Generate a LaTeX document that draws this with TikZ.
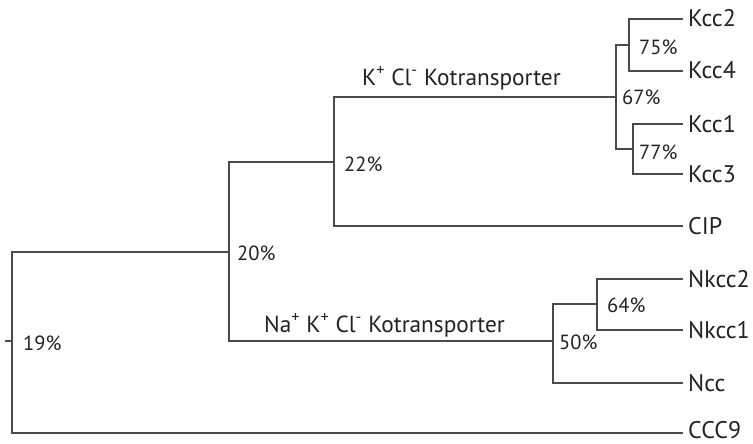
\documentclass[tikz,border=0pt]{standalone}
\usepackage{fontspec}
\setmainfont{PT Sans}
\definecolor{branch}{HTML}{4A4A4A}
\definecolor{ink}{HTML}{222222}
\begin{document}
\begin{tikzpicture}[x=1pt,y=-1pt,
  edge/.style={draw=branch,line width=1.5pt},
  taxon/.style={anchor=base west,inner sep=0pt,text depth=0pt,text=ink,font=\fontsize{24}{28}\selectfont},
  support/.style={anchor=base west,inner sep=0pt,text depth=0pt,text=ink,font=\fontsize{20.5}{24}\selectfont},
  clade/.style={anchor=base west,inner sep=0pt,text=ink,font=\fontsize{23.3}{27}\selectfont}]
\useasboundingbox (0,0) rectangle (753,444);

% internal nodes (junction points of the cladogram)
\coordinate (stub) at (5,341);
\coordinate (r)    at (12,341);
\coordinate (n20)  at (229,252);
\coordinate (n22)  at (334,162);
\coordinate (n67)  at (616,97);
\coordinate (n75)  at (629,45);
\coordinate (n77)  at (633,149);
\coordinate (n50)  at (553,341);
\coordinate (n64)  at (597,304);

% leaf end points
\coordinate (eKcc2)  at (683,19);
\coordinate (eKcc4)  at (683,71);
\coordinate (eKcc1)  at (683,124);
\coordinate (eKcc3)  at (683,174);
\coordinate (eCIP)   at (683,226);
\coordinate (eNkcc2) at (683,279);
\coordinate (eNkcc1) at (683,330);
\coordinate (eNcc)   at (683,383);
\coordinate (eCCC9)  at (683,433);

% leaf labels (baselines sit about 8pt below the branch)
\node[taxon] (Kcc2)  at (688,27)  {Kcc2};
\node[taxon] (Kcc4)  at (688,79)  {Kcc4};
\node[taxon] (Kcc1)  at (688,132) {Kcc1};
\node[taxon] (Kcc3)  at (688,182) {Kcc3};
\node[taxon] (CIP)   at (688,234) {CIP};
\node[taxon] (Nkcc2) at (688,287) {Nkcc2};
\node[taxon] (Nkcc1) at (688,338) {Nkcc1};
\node[taxon] (Ncc)   at (688,391) {Ncc};
\node[taxon] (CCC9)  at (688,438) {CCC9};

% branches
\draw[edge] (stub) -- (r);
\draw[edge] (r) |- (n20);
\draw[edge] (r) |- (eCCC9);
\draw[edge] (n20) |- (n22);
\draw[edge] (n20) |- (n50);
\draw[edge] (n22) |- (n67);
\draw[edge] (n22) |- (eCIP);
\draw[edge] (n67) |- (n75);
\draw[edge] (n67) |- (n77);
\draw[edge] (n75) |- (eKcc2);
\draw[edge] (n75) |- (eKcc4);
\draw[edge] (n77) |- (eKcc1);
\draw[edge] (n77) |- (eKcc3);
\draw[edge] (n50) |- (n64);
\draw[edge] (n50) |- (eNcc);
\draw[edge] (n64) |- (eNkcc2);
\draw[edge] (n64) |- (eNkcc1);

% bootstrap support values
\node[support] (s19) at (23,350)  {19\%};
\node[support] (s20) at (237,260) {20\%};
\node[support] (s22) at (344,171) {22\%};
\node[support] (s67) at (622,105) {67\%};
\node[support] (s75) at (639,55)  {75\%};
\node[support] (s77) at (639,159) {77\%};
\node[support] (s50) at (559,349) {50\%};
\node[support] (s64) at (607,312) {64\%};

% clade names
\node[clade] (kcc) at (362,85)
  {K\textsuperscript{+} Cl\textsuperscript{-} Kotransporter};
\node[clade] (nkcc) at (264,332)
  {Na\textsuperscript{+} K\textsuperscript{+} Cl\textsuperscript{-} Kotransporter};
\end{tikzpicture}
\end{document}
